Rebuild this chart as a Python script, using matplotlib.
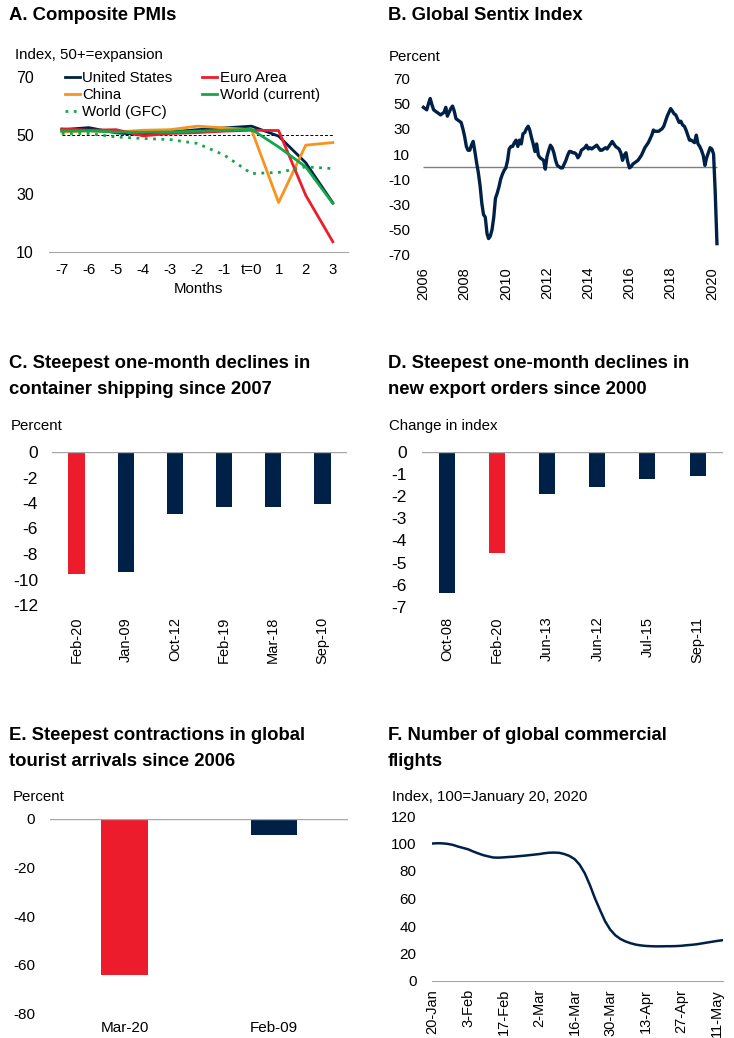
import matplotlib.pyplot as plt
import matplotlib.dates as mdates
import pandas as pd

plt.rcParams["font.family"] = ["Liberation Sans", "DejaVu Sans"]
plt.rcParams["font.size"] = 10
plt.rcParams["axes.unicode_minus"] = False

NAVY = "#002147"
RED = "#EC1C2D"
ORANGE = "#F7931E"
GREEN = "#14A64A"
GREY = "#A6A6A6"

# A. Composite PMIs
pmi_months = [-7, -6, -5, -4, -3, -2, -1, 0, 1, 2, 3]
pmi_month_labels = ["-7", "-6", "-5", "-4", "-3", "-2", "-1", "t=0", "1", "2", "3"]
pmi_us = [51.9, 52.6, 50.8, 50.2, 51.1, 51.9, 52.5, 53.1, 49.7, 40.6, 26.9]
pmi_euro = [52.2, 51.7, 51.9, 49.8, 50.6, 50.9, 51.4, 51.7, 51.6, 29.5, 13.6]
pmi_china = [51.1, 51.5, 51.1, 51.7, 51.9, 53.1, 52.5, 51.9, 27.0, 46.6, 47.5]
pmi_world = [51.5, 51.5, 51.1, 51.0, 51.1, 51.4, 51.7, 52.0, 46.0, 39.2, 26.7]
pmi_world_gfc = [50.6, 50.6, 49.4, 48.9, 48.5, 47.2, 43.2, 36.9, 37.3, 39.2, 38.6]

# B. Global Sentix index, monthly from January 2006
sentix = [
    47, 46, 45, 50, 54, 49, 45, 44, 43, 42, 41, 42,
    43, 47, 40, 43, 46, 48, 44, 38, 37, 36, 35, 30,
    24, 16, 13, 13, 17, 20, 12, 3, -5, -15, -29, -38,
    -40, -53, -57, -55, -50, -40, -25, -21, -16, -10, -6, -3,
    -1, 5, 14, 16, 16, 19, 21, 16, 21, 18, 26, 27,
    30, 32, 29, 23, 18, 12, 18, 9, 7, 6, 5, -2,
    8, 13, 17, 15, 11, 5, 1, 0, -1, -1, 2, 5,
    9, 12, 12, 11, 11, 10, 7, 9, 13, 14, 15, 17,
    14, 15, 14, 15, 16, 17, 15, 13, 13, 14, 15, 14,
    16, 18, 20, 18, 16, 15, 14, 11, 5, 9, 11, 4,
    -1, 0, 2, 3, 4, 5, 7, 9, 12, 15, 17, 19,
    22, 25, 29, 28, 28, 28, 29, 30, 32, 36, 40, 43,
    46, 44, 42, 41, 38, 35, 36, 33, 32, 29, 25, 21,
    21, 20, 19, 25, 18, 16, 13, 9, 1, 7, 11, 15,
    14, 10, -20, -61,
]
sentix_dates = pd.date_range("2006-01-01", periods=len(sentix), freq="MS")
sentix_years = [2006, 2008, 2010, 2012, 2014, 2016, 2018, 2020]

# C. Container shipping
ship_dates = ["Feb-20", "Jan-09", "Oct-12", "Feb-19", "Mar-18", "Sep-10"]
ship_change = [-9.6, -9.4, -4.9, -4.3, -4.3, -4.05]

# D. New export orders
orders_dates = ["Oct-08", "Feb-20", "Jun-13", "Jun-12", "Jul-15", "Sep-11"]
orders_change = [-6.4, -4.55, -1.9, -1.6, -1.2, -1.1]

# E. Tourist arrivals
tourist_dates = ["Mar-20", "Feb-09"]
tourist_change = [-64.2, -6.5]

highlight = {"Feb-20", "Mar-20"}

# F. Commercial flights, every second day from 20 January 2020
flights = [
    100.0, 100.2, 100.1, 99.7, 99.0, 97.8, 96.8, 95.8, 94.2, 92.8,
    91.5, 90.6, 89.8, 89.7, 89.9, 90.2, 90.4, 90.8, 91.1, 91.5,
    91.9, 92.3, 92.9, 93.3, 93.4, 93.2, 92.3, 90.9, 88.6, 84.5,
    78.3, 69.8, 60.1, 51.6, 43.4, 37.4, 33.3, 30.6, 28.8, 27.5,
    26.5, 25.9, 25.5, 25.3, 25.2, 25.2, 25.3, 25.3, 25.4, 25.6,
    26.0, 26.3, 26.7, 27.3, 27.9, 28.5, 29.1, 29.6,
]
flight_dates = pd.date_range("2020-01-20", periods=len(flights), freq="2D")
flight_ticks = pd.date_range("2020-01-20", "2020-05-11", freq="14D")
flight_tick_labels = ["20-Jan", "3-Feb", "17-Feb", "2-Mar", "16-Mar",
                      "30-Mar", "13-Apr", "27-Apr", "11-May"]

W, H = 734, 1038
fig = plt.figure(figsize=(W / 100, H / 100), dpi=100)


def add_axes(left, right, top, bottom):
    """axes placed by pixel edges, measured from the top-left corner"""
    return fig.add_axes([left / W, 1 - bottom / H, (right - left) / W, (bottom - top) / H])


def put_text(x, y, s, **kw):
    fig.text(x / W, 1 - y / H, s, ha="left", va="center", **kw)


def put_title(x, y, lines):
    for i, line in enumerate(lines):
        put_text(x, y + 26 * i, line, fontsize=13.3, fontweight="bold")


def plain(ax):
    for side in ax.spines.values():
        side.set_visible(False)
    ax.tick_params(length=0)


def bar_panel(ax, cats, vals, width, ylim, step, xpad, ypad, rotate=True):
    colors = [RED if c in highlight else NAVY for c in cats]
    ax.bar(range(len(cats)), vals, width=width, color=colors)
    ax.axhline(0, color=GREY, lw=1)
    ax.set_xlim(-0.5, len(cats) - 0.5)
    ax.set_ylim(*ylim)
    ax.set_yticks(range(ylim[0], ylim[1] + 1, step))
    ax.set_xticks(range(len(cats)))
    ax.set_xticklabels(cats, rotation=90 if rotate else 0)
    plain(ax)
    ax.tick_params(axis="x", pad=xpad, labelsize=10.5)
    ax.tick_params(axis="y", pad=ypad)


# 标题
put_title(9, 16, ["A. Composite PMIs"])
put_title(388, 16, ["B. Global Sentix Index"])
put_title(9, 364, ["C. Steepest one-month declines in", "container shipping since 2007"])
put_title(388, 364, ["D. Steepest one-month declines in", "new export orders since 2000"])
put_title(9, 736, ["E. Steepest contractions in global", "tourist arrivals since 2006"])
put_title(388, 736, ["F. Number of global commercial", "flights"])

# 单位说明
put_text(15, 55, "Index, 50+=expansion", fontsize=10.8)
put_text(389, 57, "Percent", fontsize=10.8)
put_text(11, 426, "Percent", fontsize=10.8)
put_text(389, 426, "Change in index", fontsize=10.8)
put_text(13, 797, "Percent", fontsize=10.8)
put_text(392, 797, "Index, 100=January 20, 2020", fontsize=10.8)

# A
ax = add_axes(49, 348, 76.7, 252.3)
ax.hlines(50, pmi_months[0], pmi_months[-1], color="black", lw=0.7, linestyle=(0, (3, 2)))
l_us, = ax.plot(pmi_months, pmi_us, color=NAVY, lw=2, label="United States")
l_cn, = ax.plot(pmi_months, pmi_china, color=ORANGE, lw=2, label="China")
l_eu, = ax.plot(pmi_months, pmi_euro, color=RED, lw=2, label="Euro Area")
l_wd, = ax.plot(pmi_months, pmi_world, color=GREEN, lw=2, label="World (current)")
l_gfc, = ax.plot(pmi_months, pmi_world_gfc, color=GREEN, lw=2,
                 linestyle=(0, (1, 2)), label="World (GFC)")
ax.set_xlim(-7.47, 3.56)
ax.set_ylim(10, 70)
ax.set_yticks([10, 30, 50, 70])
ax.set_xticks(pmi_months)
ax.set_xticklabels(pmi_month_labels)
plain(ax)
ax.spines["bottom"].set_visible(True)
ax.spines["bottom"].set_color(GREY)
ax.tick_params(axis="y", pad=11, labelsize=11.5)
ax.tick_params(axis="x", pad=7.5, labelsize=10.8)
ax.set_xlabel("Months", labelpad=4, fontsize=10.8)
ax.legend(handles=[l_us, l_cn, l_gfc, l_eu, l_wd], ncol=2, loc="upper left",
          bbox_to_anchor=(0.053, 1.03), frameon=False, borderpad=0,
          borderaxespad=0, handlelength=1.0, handletextpad=0.15,
          labelspacing=0.2, columnspacing=2.0, fontsize=10.8)

# B
ax = add_axes(420, 720, 78.3, 255)
ax.hlines(0, sentix_dates[0], sentix_dates[-1], color="#7F7F7F", lw=1)
ax.plot(sentix_dates, sentix, color=NAVY, lw=2.4)
ax.set_xlim(pd.Timestamp("2005-11-01"), pd.Timestamp("2020-05-25"))
ax.set_ylim(-70, 70)
ax.set_yticks(range(-70, 71, 20))
ax.set_xticks([pd.Timestamp(f"{y}-01-01") for y in sentix_years])
ax.xaxis.set_major_formatter(mdates.DateFormatter("%Y"))
ax.tick_params(axis="x", rotation=90, pad=8.5, labelsize=10.5)
ax.tick_params(axis="y", pad=7, labelsize=11)
plain(ax)

# C
ax = add_axes(52, 347, 452, 605)
bar_panel(ax, ship_dates, ship_change, 0.33, (-12, 0), 2, 8.6, 10)
ax.tick_params(axis="y", labelsize=12.5)

# D
ax = add_axes(421.7, 722.7, 452, 606.7)
bar_panel(ax, orders_dates, orders_change, 0.32, (-7, 0), 1, 7.2, 10.6)
ax.tick_params(axis="y", labelsize=12.5)

# E
ax = add_axes(50, 348.3, 819, 1013.3)
bar_panel(ax, tourist_dates, tourist_change, 0.31, (-80, 0), 20, 5.8, 10.8, rotate=False)
ax.tick_params(labelsize=11)

# F
ax = add_axes(431.7, 722.7, 816, 981)
ax.plot(flight_dates, flights, color=NAVY, lw=1.8)
ax.set_xlim(flight_dates[0] - pd.Timedelta(hours=8), flight_dates[-1] + pd.Timedelta(hours=8))
ax.set_ylim(0, 120)
ax.set_yticks(range(0, 121, 20))
ax.set_xticks(flight_ticks)
ax.set_xticklabels(flight_tick_labels, rotation=90)
plain(ax)
ax.spines["bottom"].set_visible(True)
ax.spines["bottom"].set_color(GREY)
ax.tick_params(axis="x", pad=5.8, labelsize=10.5)
ax.tick_params(axis="y", pad=10.8, labelsize=11)

fig.savefig("out.png", dpi=100)
